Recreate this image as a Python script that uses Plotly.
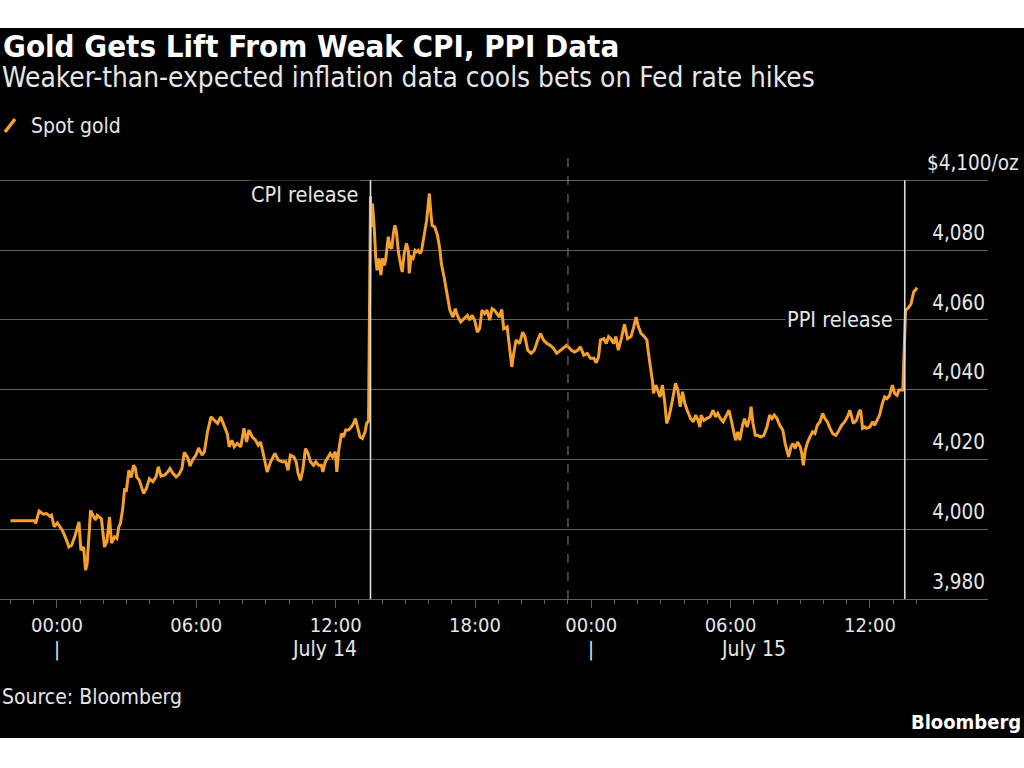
import plotly.graph_objects as go
import pandas as pd

# ---------------- data ----------------
jul13_times = ["22:00", "23:03", "23:05", "23:14", "23:25", "23:33", "23:42", "23:46", "23:53"]
jul13_vals = [4002.4, 4002.4, 4001.6, 4005.2, 4004.3, 4004.5, 4003.7, 4004.0, 4000.7]

jul14_times = [
    "00:01", "00:08", "00:16", "00:25", "00:31", "00:38", "00:46", "00:57", "01:02", "01:09",
    "01:14", "01:18", "01:27", "01:33", "01:40", "01:44", "01:51", "01:55", "02:03", "02:09",
    "02:16", "02:21", "02:29", "02:35", "02:40", "02:44", "02:50", "02:55", "02:59", "03:06",
    "03:12", "03:18", "03:23", "03:26", "03:33", "03:44", "03:51", "03:59", "04:08", "04:16",
    "04:22", "04:29", "04:38", "04:46", "04:52", "04:59", "05:08", "05:16", "05:23", "05:29",
    "05:38", "05:44", "05:50", "05:59", "06:06", "06:15", "06:21", "06:29", "06:38", "06:46",
    "06:55", "07:03", "07:12", "07:20", "07:25", "07:32", "07:38", "07:46", "07:55", "08:03",
    "08:10", "08:16", "08:25", "08:33", "08:40", "08:46", "08:55", "09:03", "09:12", "09:23",
    "09:32", "09:42", "09:51", "09:57", "10:03", "10:12", "10:18", "10:23", "10:29", "10:35",
    "10:42", "10:49", "10:55", "11:03", "11:09", "11:16", "11:23", "11:27", "11:33", "11:40",
    "11:46", "11:52", "11:59", "12:03", "12:08", "12:15", "12:20", "12:26", "12:33", "12:40",
    "12:46", "12:51", "12:57", "13:03", "13:09", "13:16", "13:20", "13:25", "13:30", "13:32",
    "13:35", "13:39", "13:44", "13:47", "13:52", "13:57", "14:01", "14:06", "14:09", "14:16",
    "14:20", "14:25", "14:29", "14:33", "14:37", "14:42", "14:49", "14:52", "14:57", "15:03",
    "15:08", "15:10", "15:15", "15:20", "15:25", "15:29", "15:33", "15:38", "15:42", "15:46",
    "15:50", "15:55", "15:59", "16:02", "16:06", "16:09", "16:16", "16:23", "16:29", "16:33",
    "16:40", "16:46", "16:52", "16:55", "17:03", "17:09", "17:14", "17:23", "17:32", "17:40",
    "17:46", "17:52", "17:59", "18:06", "18:12", "18:18", "18:25", "18:31", "18:38", "18:44",
    "18:50", "18:57", "19:03", "19:09", "19:14", "19:23", "19:29", "19:35", "19:40", "19:46",
    "19:55", "20:03", "20:09", "20:16", "20:25", "20:33", "20:42", "20:49", "20:57", "21:06",
    "21:14", "21:23", "21:31", "21:42", "21:57", "23:09", "23:17", "23:26", "23:32", "23:41",
    "23:50", "23:58",
]
jul14_vals = [
    4001.8, 4000.7, 3999.2, 3996.8, 3994.9, 3995.4, 3997.8, 4002.1, 3994.0, 3994.9,
    3988.3, 3990.0, 4005.4, 4004.0, 4002.6, 4004.0, 4003.5, 4003.0, 3994.9, 3996.4,
    4003.5, 3996.0, 3997.8, 3997.3, 4000.7, 4001.6, 4005.9, 4011.7, 4010.7, 4016.9,
    4014.8, 4018.3, 4017.4, 4015.0, 4014.0, 4010.2, 4011.7, 4014.5, 4013.6, 4015.0,
    4017.9, 4015.2, 4015.5, 4016.4, 4017.4, 4016.1, 4015.0, 4015.8, 4017.4, 4022.0,
    4020.5, 4018.1, 4019.8, 4021.2, 4023.3, 4021.2, 4022.2, 4027.9, 4032.2, 4031.2,
    4030.3, 4032.2, 4029.8, 4027.4, 4023.6, 4025.5, 4023.6, 4024.6, 4023.6, 4028.9,
    4025.0, 4028.4, 4026.4, 4025.5, 4024.1, 4025.0, 4020.7, 4016.4, 4019.3, 4021.7,
    4019.8, 4019.3, 4019.3, 4016.9, 4021.2, 4020.7, 4019.3, 4016.0, 4014.0, 4016.9,
    4023.1, 4021.7, 4019.3, 4018.3, 4019.3, 4018.3, 4018.3, 4016.4, 4019.3, 4020.7,
    4021.7, 4020.7, 4022.2, 4016.4, 4022.6, 4027.4, 4026.4, 4028.4, 4028.4, 4029.2,
    4030.3, 4031.7, 4029.3, 4026.4, 4026.0, 4027.9, 4030.3, 4031.0, 4095.4, 4086.6,
    4093.3, 4087.6, 4077.1, 4074.2, 4077.6, 4072.8, 4077.6, 4075.6, 4077.1, 4083.8,
    4080.9, 4080.4, 4084.7, 4087.1, 4085.2, 4079.5, 4075.2, 4073.7, 4079.0, 4081.9,
    4079.5, 4073.3, 4078.0, 4077.6, 4079.9, 4079.5, 4079.9, 4079.0, 4079.9, 4082.3,
    4084.7, 4088.5, 4092.8, 4096.2, 4090.5, 4087.1, 4086.6, 4084.2, 4080.4, 4076.1,
    4072.3, 4068.5, 4065.0, 4062.8, 4060.8, 4063.2, 4061.3, 4059.4, 4060.4, 4061.3,
    4059.9, 4061.3, 4059.9, 4056.5, 4057.5, 4062.8, 4061.8, 4062.8, 4059.9, 4063.2,
    4062.8, 4061.8, 4060.8, 4063.0, 4057.5, 4058.0, 4052.3, 4046.5, 4050.4, 4054.2,
    4053.2, 4056.5, 4055.2, 4051.3, 4050.4, 4051.3, 4054.2, 4056.1, 4054.2, 4053.2,
    4052.7, 4051.8, 4050.4, 4051.3, 4052.7, 4051.3, 4050.8, 4051.3, 4052.3, 4049.9,
    4050.4, 4049.0,
]

jul15_times = [
    "00:07", "00:13", "00:19", "00:24", "00:33", "00:39", "00:45", "00:51", "00:58", "01:04",
    "01:10", "01:17", "01:26", "01:34", "01:43", "01:50", "01:56", "02:02", "02:09", "02:17",
    "02:24", "02:27", "02:34", "02:39", "02:41", "02:47", "02:53", "02:58", "03:04", "03:10",
    "03:15", "03:21", "03:30", "03:38", "03:44", "03:50", "03:56", "04:02", "04:08", "04:17",
    "04:24", "04:30", "04:36", "04:41", "04:44", "04:51", "04:58", "05:07", "05:15", "05:21",
    "05:27", "05:34", "05:41", "05:50", "05:56", "06:02", "06:07", "06:13", "06:19", "06:24",
    "06:30", "06:36", "06:43", "06:50", "06:53", "06:58", "07:04", "07:10", "07:17", "07:26",
    "07:34", "07:41", "07:47", "07:53", "08:00", "08:07", "08:15", "08:21", "08:30", "08:36",
    "08:41", "08:47", "08:53", "09:00", "09:04", "09:08", "09:13", "09:18", "09:25", "09:32",
    "09:38", "09:44", "09:51", "09:58", "10:04", "10:10", "10:17", "10:24", "10:32", "10:38",
    "10:47", "10:55", "11:04", "11:08", "11:13", "11:17", "11:25", "11:32", "11:36", "11:41",
    "11:47", "11:51", "12:00", "12:07", "12:12", "12:18", "12:25", "12:32", "12:38", "12:44",
    "12:51", "12:58", "13:04", "13:10", "13:15", "13:25", "13:30", "13:32", "13:38", "13:46",
    "13:53", "14:02",
]
jul15_vals = [
    4049.0, 4047.7, 4049.4, 4054.2, 4054.6, 4053.2, 4055.2, 4054.6, 4053.2, 4055.2,
    4051.3, 4054.2, 4058.7, 4054.6, 4055.2, 4058.0, 4060.8, 4058.0, 4056.1, 4055.2,
    4054.2, 4051.3, 4046.5, 4041.8, 4038.9, 4041.3, 4039.4, 4037.9, 4041.3, 4036.5,
    4030.3, 4032.2, 4037.0, 4041.8, 4039.9, 4035.1, 4039.4, 4036.0, 4034.1, 4031.7,
    4030.8, 4032.7, 4031.2, 4029.3, 4032.7, 4031.2, 4031.7, 4032.2, 4034.1, 4032.2,
    4033.2, 4031.7, 4030.8, 4032.7, 4034.1, 4031.2, 4028.4, 4025.5, 4027.9, 4025.5,
    4029.3, 4031.7, 4029.3, 4032.2, 4035.1, 4030.3, 4026.9, 4026.9, 4026.4, 4026.9,
    4029.3, 4032.7, 4031.7, 4032.7, 4031.7, 4029.8, 4028.4, 4024.6, 4020.7, 4023.6,
    4024.6, 4023.1, 4025.0, 4023.6, 4021.7, 4018.3, 4022.6, 4024.6, 4026.4, 4027.9,
    4027.4, 4029.8, 4030.8, 4033.2, 4031.7, 4030.8, 4028.9, 4027.4, 4026.9, 4027.9,
    4029.8, 4030.8, 4032.7, 4034.1, 4032.2, 4030.3, 4031.2, 4033.7, 4034.1, 4028.9,
    4029.3, 4028.9, 4029.3, 4030.8, 4029.8, 4031.2, 4032.7, 4036.0, 4037.9, 4037.4,
    4038.4, 4041.3, 4038.9, 4038.4, 4039.9, 4039.9, 4061.8, 4062.8, 4063.3, 4064.5,
    4068.0, 4069.2,
]

y_ticks = [3980, 4000, 4020, 4040, 4060, 4080, 4100]
y_tick_labels = ["3,980", "4,000", "4,020", "4,040", "4,060", "4,080", ""]
y_top_label = "$4,100/oz"

x_major = ["2025-07-14 00:00", "2025-07-14 06:00", "2025-07-14 12:00", "2025-07-14 18:00",
           "2025-07-15 00:00", "2025-07-15 06:00", "2025-07-15 12:00"]
x_major_labels = ["00:00", "06:00", "12:00", "18:00", "00:00", "06:00", "12:00"]
day_labels = ["July 14", "July 15"]
day_label_pos = ["2025-07-14 11:30", "2025-07-15 07:00"]
day_starts = ["2025-07-14 00:00", "2025-07-15 00:00"]

cpi_time = "2025-07-14 13:30"
ppi_time = "2025-07-15 13:30"
break_start = "2025-07-14 22:00"
break_end = "2025-07-14 23:00"

title = "Gold Gets Lift From Weak CPI, PPI Data"
subtitle = "Weaker-than-expected inflation data cools bets on Fed rate hikes"
series_name = "Spot gold"
source = "Source: Bloomberg"
brand = "Bloomberg"

# ---------------- build ----------------
times = ([f"2025-07-13 {t}" for t in jul13_times] +
         [f"2025-07-14 {t}" for t in jul14_times] +
         [f"2025-07-15 {t}" for t in jul15_times])
values = jul13_vals + jul14_vals + jul15_vals

ORANGE = "#F5A02C"
GRID = "#5f5f5f"
TEXT = "#e6e6e6"
FONT = "DejaVu Sans Condensed, DejaVu Sans, sans-serif"

W, H = 1024, 768
L, R, T, B = 0, 36, 152, 169


def px(x):
    return (x - L) / (W - L - R)


def py(y):
    return (H - B - y) / (H - T - B)


minor = [t.strftime("%Y-%m-%d %H:%M") for t in
         pd.date_range("2025-07-13 22:00", "2025-07-15 14:00", freq="h")]
minor = [t for t in minor if t not in x_major and t != break_start]

fig = go.Figure()
fig.add_trace(go.Scatter(x=times, y=values, mode="lines", name=series_name,
                         line=dict(color=ORANGE, width=3), showlegend=False,
                         hoverinfo="skip"))

shapes = [
    dict(type="rect", xref="paper", yref="paper", x0=-0.05, x1=1.1,
         y0=py(738), y1=py(28), fillcolor="black", line=dict(width=0), layer="below"),
    dict(type="line", xref="x", yref="paper", x0=break_end, x1=break_end, y0=0, y1=1,
         line=dict(color="#6a6a6a", width=1.2, dash="dash")),
    dict(type="line", xref="x", yref="y", x0=cpi_time, x1=cpi_time, y0=3980, y1=4100,
         line=dict(color="#dcdcdc", width=1.6)),
    dict(type="line", xref="x", yref="y", x0=ppi_time, x1=ppi_time, y0=3980, y1=4100,
         line=dict(color="#dcdcdc", width=1.6)),
    dict(type="line", xref="paper", yref="paper", x0=px(5), x1=px(15), y0=py(132), y1=py(119),
         line=dict(color=ORANGE, width=3.5)),
]

ann = [
    dict(text=f"<b>{title}</b>", x=px(1), y=py(46), xanchor="left", yanchor="middle",
         font=dict(size=31, color="white")),
    dict(text=subtitle, x=px(0), y=py(78), xanchor="left", yanchor="middle",
         font=dict(size=27.8, color=TEXT)),
    dict(text=series_name, x=px(29), y=py(126), xanchor="left", yanchor="middle",
         font=dict(size=21, color=TEXT)),
    dict(text=y_top_label, x=px(1021), y=py(163), xanchor="right", yanchor="middle",
         font=dict(size=20.5, color=TEXT)),
    dict(text=source, x=px(0), y=py(697), xanchor="left", yanchor="middle",
         font=dict(size=21, color=TEXT)),
    dict(text=f"<b>{brand}</b>", x=px(1023), y=py(722), xanchor="right", yanchor="middle",
         font=dict(size=20, color="white")),
]
for a in ann:
    a.update(xref="paper", yref="paper", showarrow=False)

for txt, t, yv in [("CPI release", cpi_time, 4096), ("PPI release", ppi_time, 4060)]:
    ann.append(dict(text=txt, x=t, y=yv, xref="x", yref="y", xanchor="right", yanchor="middle",
                    xshift=-10, showarrow=False, bgcolor="black", borderpad=1,
                    font=dict(size=21.5, color=TEXT)))
for lab, pos in zip(day_labels, day_label_pos):
    ann.append(dict(text=lab, x=pos, y=py(649), xref="x", yref="paper", xanchor="center",
                    yanchor="middle", showarrow=False, font=dict(size=21, color=TEXT)))
for pos in day_starts:
    ann.append(dict(text="|", x=pos, y=py(649), xref="x", yref="paper", xanchor="center",
                    yanchor="middle", showarrow=False, font=dict(size=20, color=TEXT)))

fig.update_layout(
    width=W, height=H, autosize=False,
    margin=dict(l=L, r=R, t=T, b=B, pad=0),
    paper_bgcolor="white", plot_bgcolor="black",
    font=dict(family=FONT, color=TEXT),
    shapes=shapes, annotations=ann, showlegend=False,
    xaxis=dict(
        type="date", range=["2025-07-13 21:33", "2025-07-15 17:05"],
        rangebreaks=[dict(values=[break_start + ":00"], dvalue=3600000)],
        tickmode="array", tickvals=x_major, ticktext=x_major_labels,
        ticks="outside", ticklen=8, tickwidth=1, tickcolor=GRID,
        showgrid=False, zeroline=False, showline=True, linecolor=GRID, linewidth=1,
        tickfont=dict(size=20, color=TEXT, family=FONT),
        minor=dict(tickmode="array", tickvals=minor, ticks="outside", ticklen=4,
                   tickwidth=1, tickcolor=GRID, showgrid=False),
        fixedrange=True,
    ),
    yaxis=dict(
        range=[3980, 4108.1], side="right",
        tickmode="array", tickvals=y_ticks, ticktext=y_tick_labels,
        ticklabelposition="inside top", ticks="", ticklabelshift=-3,
        showgrid=True, gridcolor=GRID, gridwidth=1, zeroline=False, showline=False,
        tickfont=dict(size=20.5, color=TEXT, family=FONT),
        fixedrange=True,
    ),
)

fig.write_html("out.html", config=dict(displayModeBar=False))
